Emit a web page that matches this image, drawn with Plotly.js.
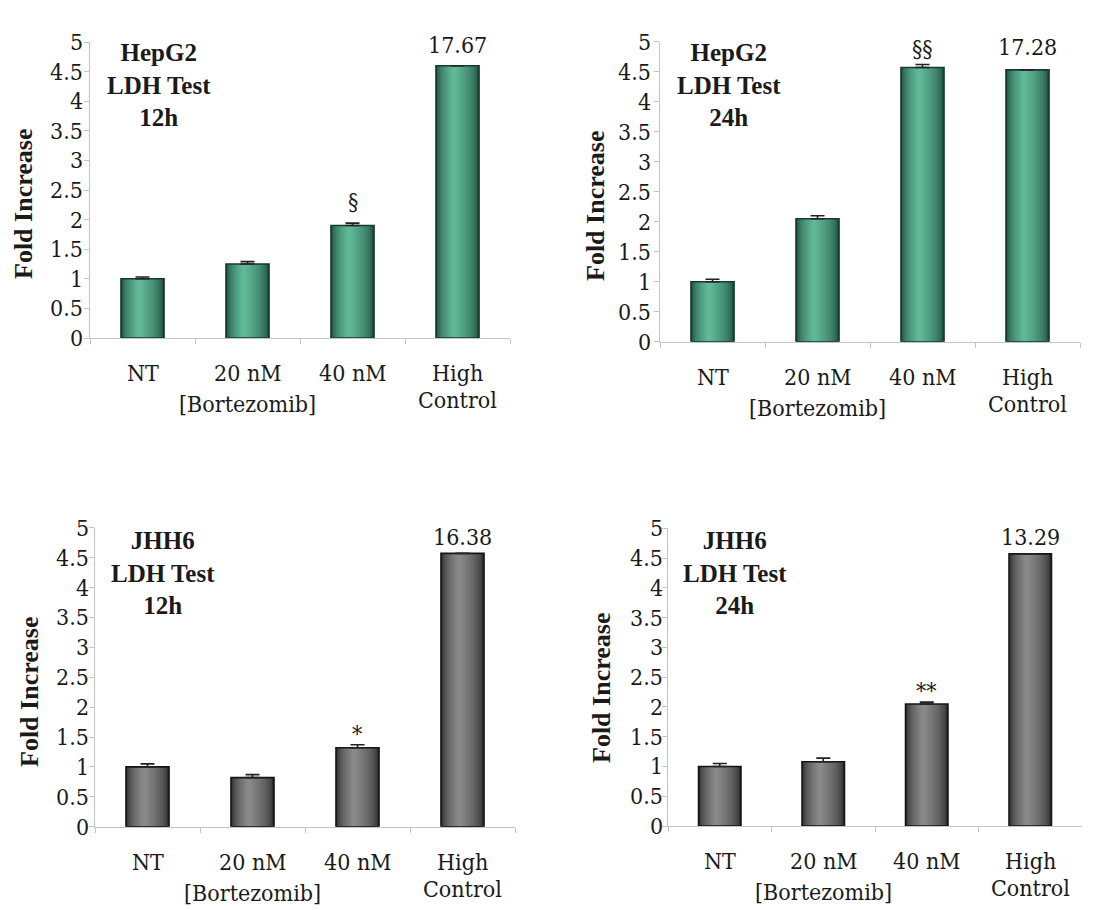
<!DOCTYPE html>
<html>
<head>
<meta charset="utf-8">
<script src="https://cdn.plot.ly/plotly-3.0.1.min.js"></script>
<style>html,body{margin:0;padding:0;background:#fff;}#chart{width:1109px;height:910px;}</style>
</head>
<body>
<div id="chart"></div>
<script>
// ---- data ----
const categories = ['NT', '20 nM', '40 nM', 'High Control'];
const categoryLines = [['NT'], ['20 nM'], ['40 nM'], ['High', 'Control']];
const xGroupLabel = '[Bortezomib]';          // written under the "20 nM" category
const yTickValues = [0, 0.5, 1, 1.5, 2, 2.5, 3, 3.5, 4, 4.5, 5];

const hepg2_12h_values = [1.00, 1.25, 1.90, 4.60];
const hepg2_12h_errors = [0.03, 0.04, 0.04, 0];
const hepg2_12h_marks  = ['', '', '§', ''];

const hepg2_24h_values = [1.00, 2.05, 4.57, 4.53];
const hepg2_24h_errors = [0.04, 0.05, 0.05, 0];
const hepg2_24h_marks  = ['', '', '§§', ''];

const jhh6_12h_values = [1.00, 0.82, 1.32, 4.57];
const jhh6_12h_errors = [0.05, 0.05, 0.05, 0];
const jhh6_12h_marks  = ['', '', '*', ''];

const jhh6_24h_values = [1.00, 1.08, 2.05, 4.57];
const jhh6_24h_errors = [0.05, 0.06, 0.03, 0];
const jhh6_24h_marks  = ['', '', '**', ''];

// actual (off-scale) values of the High Control bars
const highControlLabels = ['17.67', '17.28', '16.38', '13.29'];
const panelTitles = ['HepG2<br>LDH Test<br>12h', 'HepG2<br>LDH Test<br>24h', 'JHH6<br>LDH Test<br>12h', 'JHH6<br>LDH Test<br>24h'];
const yTitle = 'Fold Increase';

// ---- styling / layout ----
const W = 1109, H = 910;
const SERIF_BOLD = 'Liberation Serif';
const SERIF = 'DejaVu Serif Condensed';
const TXT = '#1a1a1a';
const AXC = '#c4c4c4';
const green = {dark: [27, 74, 60], light: [100, 190, 156], line: '#173a2f'};
const gray  = {dark: [42, 42, 42], light: [142, 142, 142], line: '#151515'};

const panels = [
  {values: hepg2_12h_values, errors: hepg2_12h_errors, marks: hepg2_12h_marks, pal: green,
   dom: {l: 90, r: 510, t: 42, b: 338}, yLabRight: 84, titleC: [159, 37], yTitleC: [24, 204], labShift: 6, markShift: 7},
  {values: hepg2_24h_values, errors: hepg2_24h_errors, marks: hepg2_24h_marks, pal: green,
   dom: {l: 660, r: 1080, t: 41.7, b: 341.7}, yLabRight: 652, titleC: [729, 37], yTitleC: [596, 206], labShift: 8, markShift: 2},
  {values: jhh6_12h_values, errors: jhh6_12h_errors, marks: jhh6_12h_marks, pal: gray,
   dom: {l: 95, r: 515, t: 527.7, b: 826.7}, yLabRight: 90, titleC: [163, 525], yTitleC: [29, 692], labShift: 1, markShift: -4},
  {values: jhh6_24h_values, errors: jhh6_24h_errors, marks: jhh6_24h_marks, pal: gray,
   dom: {l: 668, r: 1082, t: 528.3, b: 826}, yLabRight: 664, titleC: [735, 525], yTitleC: [601, 688], labShift: 2, markShift: -4}
];

const BARW = 0.41, HC = -0.035, NL = 14;
const XLAB_GAP = 21, XLAB_LINE = 27, XGROUP_GAP = 31;
function shade(c0, c1, f) {
  return 'rgb(' + c0.map((v, k) => Math.round(v + (c1[k] - v) * f)).join(',') + ')';
}

const traces = [];
const layout = {
  width: W, height: H,
  margin: {l: 0, r: 0, t: 0, b: 0},
  paper_bgcolor: '#ffffff', plot_bgcolor: 'rgba(0,0,0,0)',
  showlegend: false, barmode: 'overlay', hovermode: false,
  font: {family: SERIF, color: TXT},
  annotations: []
};

panels.forEach((p, i) => {
  const n = i === 0 ? '' : String(i + 1);
  const xa = 'x' + n, ya = 'y' + n;
  layout['xaxis' + n] = {
    domain: [p.dom.l / W, p.dom.r / W], anchor: ya,
    type: 'category', range: [-0.5, 3.5], categoryarray: categories,
    tickson: 'boundaries', ticks: 'outside', ticklen: 5, tickcolor: AXC, tickwidth: 1,
    showticklabels: false,
    showline: true, linecolor: AXC, linewidth: 1,
    showgrid: false, zeroline: false, fixedrange: true, automargin: false
  };
  layout['yaxis' + n] = {
    domain: [1 - p.dom.b / H, 1 - p.dom.t / H], anchor: xa,
    range: [0, 5], tickmode: 'array', tickvals: yTickValues,
    ticks: 'outside', ticklen: 5, tickcolor: AXC, tickwidth: 1,
    showticklabels: false,
    showline: true, linecolor: AXC, linewidth: 1,
    showgrid: false, zeroline: false, fixedrange: true, automargin: false
  };

  // shaded cylinder bars: nested layers
  for (let k = 0; k < NL; k++) {
    const t = k / NL;
    const L = -BARW / 2 + t * (HC + BARW / 2);
    const R = BARW / 2 - t * (BARW / 2 - HC);
    traces.push({
      type: 'bar', x: categories, y: p.values, xaxis: xa, yaxis: ya,
      offset: L, width: R - L,
      marker: {color: shade(p.pal.dark, p.pal.light, Math.pow(t, 0.55)), line: {width: 0}},
      hoverinfo: 'skip'
    });
  }
  // outline + error bars
  traces.push({
    type: 'bar', x: categories, y: p.values, xaxis: xa, yaxis: ya,
    offset: -BARW / 2, width: BARW,
    marker: {color: 'rgba(0,0,0,0)', line: {color: p.pal.line, width: 1.6}},
    error_y: {type: 'data', symmetric: false, array: p.errors, arrayminus: p.errors.map(() => 0),
              color: '#222', thickness: 1.6, width: 7},
    hoverinfo: 'skip'
  });

  // y tick labels
  yTickValues.forEach(v => {
    layout.annotations.push({
      xref: 'paper', yref: ya, x: p.yLabRight / W, y: v,
      xanchor: 'right', yanchor: 'middle', showarrow: false, borderpad: 0,
      text: String(v), font: {family: SERIF, size: 23, color: TXT}
    });
  });
  // category labels
  categoryLines.forEach((lines, j) => {
    lines.forEach((ln, li) => {
      layout.annotations.push({
        xref: xa, yref: 'paper', x: categories[j], y: 1 - (p.dom.b + XLAB_GAP + li * XLAB_LINE) / H,
        xanchor: 'center', yanchor: 'top', showarrow: false, borderpad: 0,
        text: ln, font: {family: SERIF, size: 23, color: TXT}
      });
    });
  });
  layout.annotations.push({
    xref: xa, yref: 'paper', x: categories[1], y: 1 - (p.dom.b + XLAB_GAP + XGROUP_GAP) / H,
    xanchor: 'center', yanchor: 'top', showarrow: false, borderpad: 0,
    text: xGroupLabel, font: {family: SERIF, size: 23, color: TXT}
  });

  // High Control actual value label
  layout.annotations.push({
    xref: xa, yref: ya, x: categories[3], y: p.values[3],
    text: highControlLabels[i], showarrow: false, yanchor: 'bottom', yshift: p.labShift,
    font: {family: SERIF, size: 23, color: TXT}
  });
  // significance marks
  p.marks.forEach((m, j) => {
    if (!m) return;
    layout.annotations.push({
      xref: xa, yref: ya, x: categories[j], y: p.values[j] + p.errors[j],
      text: m, showarrow: false, yanchor: 'bottom', yshift: p.markShift,
      font: {family: SERIF, size: 23, color: TXT}
    });
  });
  // panel title
  layout.annotations.push({
    xref: 'paper', yref: 'paper', x: p.titleC[0] / W, y: 1 - p.titleC[1] / H,
    xanchor: 'center', yanchor: 'top', align: 'center',
    text: panelTitles[i], showarrow: false,
    font: {family: SERIF_BOLD, size: 25, color: TXT, weight: 'bold'}
  });
  // y axis title
  layout.annotations.push({
    xref: 'paper', yref: 'paper', x: p.yTitleC[0] / W, y: 1 - p.yTitleC[1] / H,
    xanchor: 'center', yanchor: 'middle', textangle: -90,
    text: yTitle, showarrow: false,
    font: {family: SERIF_BOLD, size: 26, color: TXT, weight: 'bold'}
  });
});

Plotly.newPlot('chart', traces, layout, {displayModeBar: false, staticPlot: true});
</script>
</body>
</html>
